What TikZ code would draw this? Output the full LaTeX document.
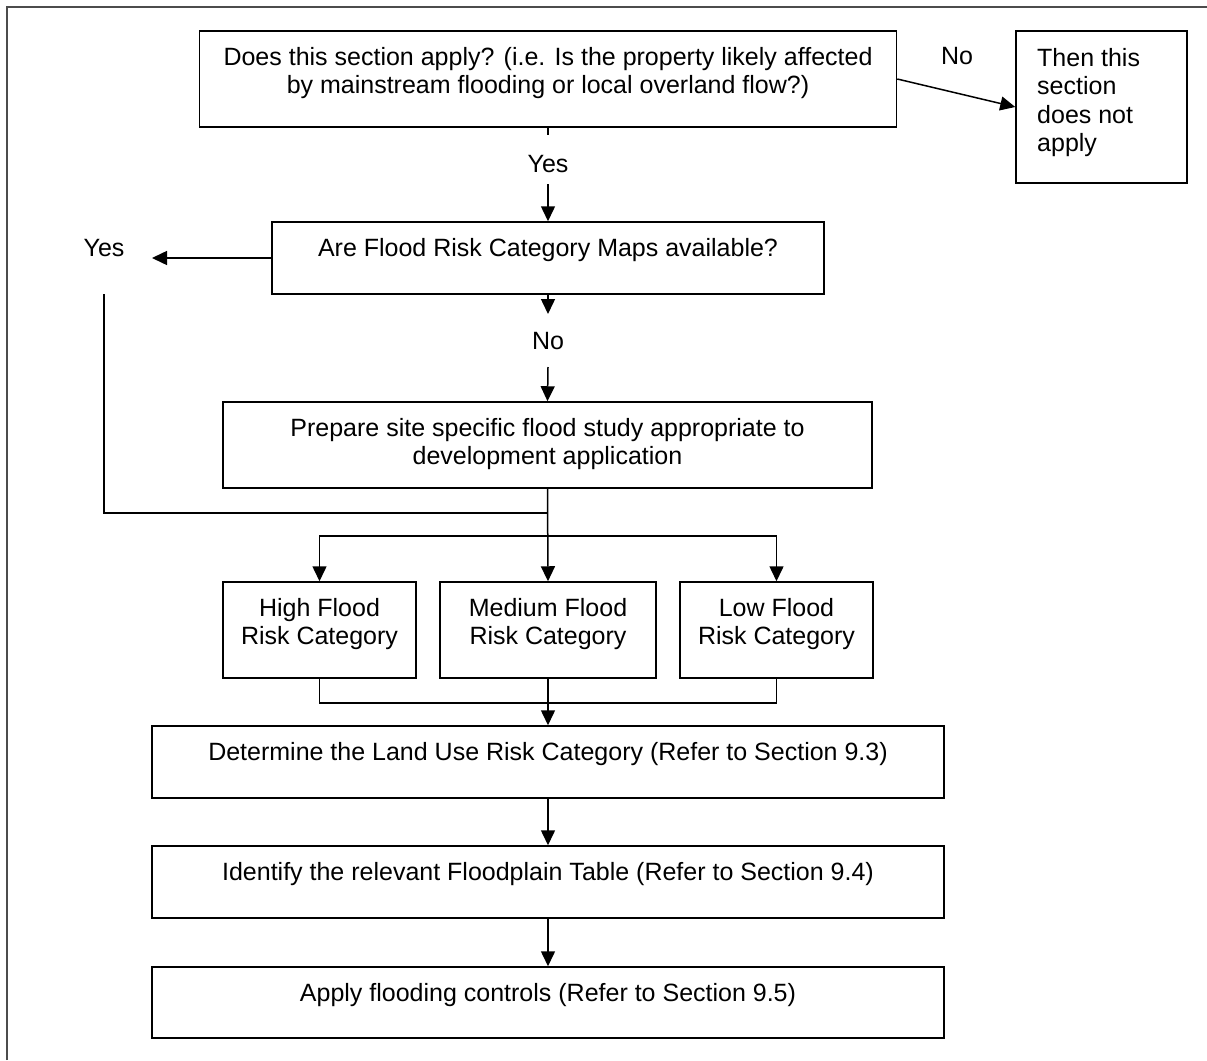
\documentclass[tikz,border=0pt]{standalone}
\usepackage{fontspec}
\setmainfont{Liberation Sans}
\usetikzlibrary{arrows.meta}

\tikzset{
	box/.style={draw, line width=1.5pt, inner sep=0pt},
	txt/.style={inner sep=0pt, align=center, anchor=north},
	lbl/.style={inner sep=0pt, text height=18pt, text depth=0pt},
	lin/.style={line width=1.5pt},
	arr/.style={line width=1.5pt, -{Triangle[length=15pt,width=14pt]}},
}
\newcommand{\tstrut}{\rule{0pt}{24pt}}

\begin{document}
\begin{tikzpicture}[x=1pt,y=-1pt,font=\fontsize{25}{28.5}\selectfont]
\useasboundingbox (0,0) rectangle (1207,1060);

% outer frame
\draw[line width=1.2pt, black!70] (7,1060) -- (7,7) -- (1207,7);

% first question
\node[box, minimum width=697pt, minimum height=96pt] (applies) at (548,79) {};
\node[txt] (applies-t) at ([yshift=-11pt]applies.north) {\tstrut Does this section apply? (i.e. Is the property likely affected\\by mainstream flooding or local overland flow?)};
\node[box, minimum width=171pt, minimum height=152pt] (notapply) at (1101.5,107) {};
\node[txt, align=left, anchor=north west] (notapply-t) at (1037,42) {\tstrut Then this\\section\\does not\\apply};
\node[lbl] (no1) at (957,55) {No};
\node[lbl] (yes1) at (548,163) {Yes};

% maps available?
\node[box, minimum width=552pt, minimum height=72pt] (maps) at (548,258) {};
\node[txt] (maps-t) at ([yshift=-11pt]maps.north) {\tstrut Are Flood Risk Category Maps available?};
\node[lbl] (yes2) at (104,247) {Yes};
\node[lbl] (no2) at (548,340) {No};

% flood study
\node[box, minimum width=649pt, minimum height=86pt] (study) at (547.5,445) {};
\node[txt] (study-t) at ([yshift=-11pt]study.north) {\tstrut Prepare site specific flood study appropriate to\\development application};

% risk categories
\foreach \n/\x/\w/\lvl in {high/319.5/193/High, medium/548/216/Medium, low/776.5/193/Low}{
	\node[box, minimum width=\w pt, minimum height=96pt] (\n) at (\x,630) {};
	\node[txt] (\n-t) at ([yshift=-11pt]\n.north) {\tstrut \lvl\ Flood\\Risk Category};
}

% last steps
\node[box, minimum width=792pt, minimum height=72pt] (landuse) at (548,762) {};
\node[txt] (landuse-t) at ([yshift=-11pt]landuse.north) {\tstrut Determine the Land Use Risk Category (Refer to Section 9.3)};
\node[box, minimum width=792pt, minimum height=72pt] (table) at (548,882) {};
\node[txt] (table-t) at ([yshift=-11pt]table.north) {\tstrut Identify the relevant Floodplain Table (Refer to Section 9.4)};
\node[box, minimum width=792pt, minimum height=71pt] (controls) at (548,1002.5) {};
\node[txt] (controls-t) at ([yshift=-11pt]controls.north) {\tstrut Apply flooding controls (Refer to Section 9.5)};

% connectors
\coordinate (yes1a) at (548,135);
\coordinate (yes1b) at (548,184);
\coordinate (yes2a) at (152,258);
\coordinate (yes2b) at (104,294);
\coordinate (no2a) at (548,314);
\coordinate (no2b) at (548,367);
\coordinate (merge) at (548,513);
\coordinate (split) at (548,536);
\coordinate (join) at (548,703);

\draw[arr] (applies.east) -- (notapply.west);
\draw[lin] (applies.south) -- (yes1a);
\draw[arr] (yes1b) -- (maps.north);
\draw[arr] (maps.west) -- (yes2a);
\draw[arr] (maps.south) -- (no2a);
\draw[arr] (no2b) -- (study.north);
\draw[lin] (yes2b) |- (merge);
\draw[arr] (study.south) -- (medium.north);
\draw[arr] (split) -| (high.north);
\draw[arr] (split) -| (low.north);
\draw[lin] (high.south) |- (join) -| (low.south);
\draw[arr] (medium.south) -- (landuse.north);
\draw[arr] (landuse.south) -- (table.north);
\draw[arr] (table.south) -- (controls.north);

\end{tikzpicture}
\end{document}
